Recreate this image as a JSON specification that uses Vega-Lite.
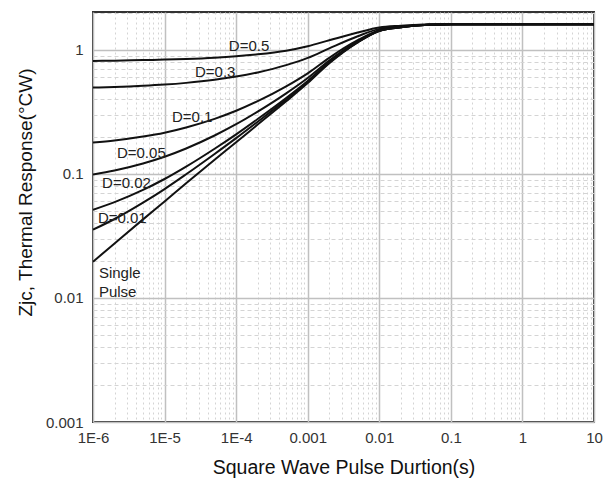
{
  "$schema": "https://vega.github.io/schema/vega-lite/v6.json",
  "width": 501,
  "height": 410,
  "autosize": {"type": "none"},
  "padding": {"left": 93, "top": 12, "right": 20, "bottom": 63},
  "background": "white",
  "config": {
    "view": {"stroke": "#333", "strokeWidth": 2},
    "font": "Liberation Sans"
  },
  "datasets": {
    "curves": [
      {"t": 0.000001, "d50": 0.815, "d30": 0.497, "d10": 0.179, "d05": 0.0991, "d02": 0.0514, "d01": 0.0355, "single": 0.0196},
      {"t": 0.000002, "d50": 0.819, "d30": 0.502, "d10": 0.186, "d05": 0.1066, "d02": 0.0592, "d01": 0.0433, "single": 0.0275},
      {"t": 0.000005, "d50": 0.827, "d30": 0.513, "d10": 0.200, "d05": 0.1214, "d02": 0.0743, "d01": 0.0587, "single": 0.043},
      {"t": 0.00001, "d50": 0.835, "d30": 0.525, "d10": 0.215, "d05": 0.1375, "d02": 0.091, "d01": 0.0755, "single": 0.060},
      {"t": 0.00002, "d50": 0.845, "d30": 0.542, "d10": 0.237, "d05": 0.1603, "d02": 0.1145, "d01": 0.0993, "single": 0.084},
      {"t": 0.00005, "d50": 0.865, "d30": 0.574, "d10": 0.278, "d05": 0.204, "d02": 0.1596, "d01": 0.1448, "single": 0.130},
      {"t": 0.0001, "d50": 0.888, "d30": 0.609, "d10": 0.323, "d05": 0.2515, "d02": 0.2086, "d01": 0.1943, "single": 0.18},
      {"t": 0.0002, "d50": 0.920, "d30": 0.658, "d10": 0.386, "d05": 0.318, "d02": 0.2772, "d01": 0.2636, "single": 0.25},
      {"t": 0.0005, "d50": 0.985, "d30": 0.753, "d10": 0.508, "d05": 0.4465, "d02": 0.4095, "d01": 0.397, "single": 0.385},
      {"t": 0.001, "d50": 1.07, "d30": 0.861, "d10": 0.647, "d05": 0.5935, "d02": 0.5614, "d01": 0.5507, "single": 0.54},
      {"t": 0.002, "d50": 1.195, "d30": 1.029, "d10": 0.863, "d05": 0.8215, "d02": 0.7966, "d01": 0.788, "single": 0.78},
      {"t": 0.005, "d50": 1.380, "d30": 1.288, "d10": 1.196, "d05": 1.173, "d02": 1.159, "d01": 1.1546, "single": 1.15},
      {"t": 0.01, "d50": 1.515, "d30": 1.477, "d10": 1.439, "d05": 1.4295, "d02": 1.424, "d01": 1.4219, "single": 1.42},
      {"t": 0.02, "d50": 1.565, "d30": 1.547, "d10": 1.529, "d05": 1.5245, "d02": 1.522, "d01": 1.521, "single": 1.52},
      {"t": 0.03, "d50": 1.588, "d30": 1.579, "d10": 1.570, "d05": 1.567, "d02": 1.566, "d01": 1.565, "single": 1.565},
      {"t": 0.05, "d50": 1.603, "d30": 1.600, "d10": 1.597, "d05": 1.596, "d02": 1.595, "d01": 1.595, "single": 1.595},
      {"t": 0.1, "d50": 1.61, "d30": 1.61, "d10": 1.61, "d05": 1.61, "d02": 1.61, "d01": 1.61, "single": 1.61},
      {"t": 1, "d50": 1.61, "d30": 1.61, "d10": 1.61, "d05": 1.61, "d02": 1.61, "d01": 1.61, "single": 1.61},
      {"t": 10, "d50": 1.61, "d30": 1.61, "d10": 1.61, "d05": 1.61, "d02": 1.61, "d01": 1.61, "single": 1.61}
    ],
    "labels": [
      {"t": 0.000079, "z": 1.08, "label": "D=0.5"},
      {"t": 0.0000266, "z": 0.665, "label": "D=0.3"},
      {"t": 0.0000127, "z": 0.288, "label": "D=0.1"},
      {"t": 0.00000216, "z": 0.148, "label": "D=0.05"},
      {"t": 0.00000134, "z": 0.0846, "label": "D=0.02"},
      {"t": 0.00000117, "z": 0.0442, "label": "D=0.01"},
      {"t": 0.00000121, "z": 0.0159, "label": "Single"},
      {"t": 0.00000121, "z": 0.01116, "label": "Pulse"}
    ]
  },
  "layer": [
    {
      "data": {"name": "curves"},
      "transform": [{"fold": ["d50", "d30", "d10", "d05", "d02", "d01", "single"], "as": ["series", "z"]}],
      "mark": {"type": "line", "interpolate": "monotone", "color": "#111", "strokeWidth": 2, "clip": true},
      "encoding": {
        "x": {
          "field": "t", "type": "quantitative",
          "scale": {"type": "log", "domain": [0.000001, 10], "nice": false},
          "axis": {
            "title": "Square Wave Pulse Durtion(s)",
            "titleFontSize": 19.5, "titleFontWeight": "normal", "titleColor": "#111",
            "titleBaseline": "alphabetic", "titleY": 51,
            "values": [0.000001,0.000002,0.000003,0.000004,0.000005,0.000006,0.000007,0.000008,0.000009,
                       0.00001,0.00002,0.00003,0.00004,0.00005,0.00006,0.00007,0.00008,0.00009,
                       0.0001,0.0002,0.0003,0.0004,0.0005,0.0006,0.0007,0.0008,0.0009,
                       0.001,0.002,0.003,0.004,0.005,0.006,0.007,0.008,0.009,
                       0.01,0.02,0.03,0.04,0.05,0.06,0.07,0.08,0.09,
                       0.1,0.2,0.3,0.4,0.5,0.6,0.7,0.8,0.9,
                       1,2,3,4,5,6,7,8,9,10],
            "labelExpr": "datum.value == 0.000001 ? '1E-6' : datum.value == 0.00001 ? '1E-5' : datum.value == 0.0001 ? '1E-4' : datum.value == 0.001 ? '0.001' : datum.value == 0.01 ? '0.01' : datum.value == 0.1 ? '0.1' : datum.value == 1 ? '1' : datum.value == 10 ? '10' : ''",
            "labelFontSize": 15, "labelColor": "#333", "labelPadding": 8,
            "labelOverlap": false, "labelFlush": false, "labelBound": false,
            "ticks": false, "domain": false,
            "gridColor": {"condition": {"test": "indexof([0.000001,0.00001,0.0001,0.001,0.01,0.1,1,10], datum.value) >= 0", "value": "#c0c0c0"}, "value": "#d4d4d4"},
            "gridDash": {"condition": {"test": "indexof([0.000001,0.00001,0.0001,0.001,0.01,0.1,1,10], datum.value) >= 0", "value": []}, "value": [2, 3]},
            "gridWidth": {"condition": {"test": "indexof([0.000001,0.00001,0.0001,0.001,0.01,0.1,1,10], datum.value) >= 0", "value": 1.5}, "value": 1}
          }
        },
        "y": {
          "field": "z", "type": "quantitative",
          "scale": {"type": "log", "domain": [0.001, 2.02], "nice": false},
          "axis": {
            "title": "Zjc, Thermal Response(°CW)",
            "titleFontSize": 19, "titleFontWeight": "normal", "titleColor": "#111",
            "titleAngle": -90, "titleAlign": "center", "titleBaseline": "middle",
            "titleX": -68, "titleY": 180,
            "values": [0.001,0.002,0.003,0.004,0.005,0.006,0.007,0.008,0.009,
                       0.01,0.02,0.03,0.04,0.05,0.06,0.07,0.08,0.09,
                       0.1,0.2,0.3,0.4,0.5,0.6,0.7,0.8,0.9,1,2],
            "labelExpr": "datum.value == 0.001 ? '0.001' : datum.value == 0.01 ? '0.01' : datum.value == 0.1 ? '0.1' : datum.value == 1 ? '1' : ''",
            "labelFontSize": 15, "labelColor": "#333", "labelPadding": 10,
            "labelOverlap": false, "labelFlush": false, "labelBound": false,
            "ticks": false, "domain": false,
            "gridColor": {"condition": {"test": "indexof([0.001,0.01,0.1,1], datum.value) >= 0", "value": "#c0c0c0"}, "value": "#d4d4d4"},
            "gridDash": {"condition": {"test": "indexof([0.001,0.01,0.1,1], datum.value) >= 0", "value": []}, "value": [4, 3]},
            "gridWidth": {"condition": {"test": "indexof([0.001,0.01,0.1,1], datum.value) >= 0", "value": 1.5}, "value": 1}
          }
        },
        "detail": {"field": "series", "type": "nominal"}
      }
    },
    {
      "data": {"name": "labels"},
      "mark": {"type": "text", "align": "left", "baseline": "middle", "fontSize": 15, "color": "#222"},
      "encoding": {
        "x": {"field": "t", "type": "quantitative"},
        "y": {"field": "z", "type": "quantitative"},
        "text": {"field": "label", "type": "nominal"}
      }
    }
  ]
}
